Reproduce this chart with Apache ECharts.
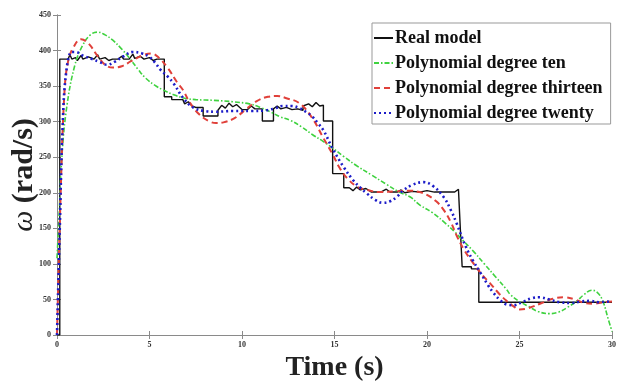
<!DOCTYPE html>
<html>
<head>
<meta charset="utf-8">
<script src="https://cdn.jsdelivr.net/npm/echarts@6/dist/echarts.min.js"></script>
<style>html,body{margin:0;padding:0;background:#fff}#c{width:621px;height:385px}</style>
</head>
<body>
<div id="c"></div>
<script>
const seriesNames = ['Real model', 'Polynomial degree ten', 'Polynomial degree thirteen', 'Polynomial degree twenty'];
const xTicks = [0, 5, 10, 15, 20, 25, 30];
const yTicks = [0, 50, 100, 150, 200, 250, 300, 350, 400, 450];

const realModel = [
  [0,0],[0.15,0],[0.15,388],[0.6,388],[0.7,394],[0.8,388],[1.0,390],[1.1,386],[1.3,393],[1.4,388],
  [1.7,391],[2.0,388],[2.2,394],[2.3,388],[2.6,390],[2.8,386],[3.0,388],[3.3,388],[3.5,392],[3.6,388],
  [3.9,388],[4.1,395],[4.2,389],[4.5,392],[4.7,388],[5.0,390],[5.2,386],[5.4,388],[5.8,388],[5.8,335],
  [6.2,335],[6.2,331],[6.8,331],[6.9,325],[7.1,328],[7.3,322],[7.5,320],[7.9,320],[7.9,308],[8.7,308],
  [8.7,316],[8.9,323],[9.1,319],[9.3,326],[9.5,321],[9.7,324],[10.0,317],[10.3,317],[10.5,322],[10.7,318],
  [11.1,318],[11.1,301],[11.7,301],[11.7,318],[11.9,322],[12.1,318],[12.4,320],[12.7,317],[13.0,318],[13.3,316],
  [13.3,322],[13.6,325],[13.8,321],[14.0,327],[14.2,322],[14.4,323],[14.4,301],[14.9,301],[14.9,227],[15.5,227],
  [15.5,207],[15.8,207],[16.0,203],[16.2,208],[16.4,204],[16.7,206],[17.0,201],[17.5,201],[17.8,205],[18.0,201],
  [18.4,201],[18.6,204],[18.8,200],[19.2,202],[19.6,201],[20.0,203],[20.4,201],[21.0,201],[21.5,201],[21.7,205],
  [21.8,203],[21.9,96],[22.4,96],[22.4,93],[22.8,93],[22.8,46],[25.0,46],[27.0,46],[30,46]
];

const polyTen = [
  [0,108],[0.1,160],[0.27,253],[0.54,323],[0.97,380],[1.4,408],[1.8,422],[2.2,426],[2.6,422],[3.0,415],
  [3.5,402],[3.9,390],[4.4,373],[4.8,361],[5.3,351],[5.7,345],[6.3,338],[6.9,333],[7.5,331],[8.5,330],
  [9.5,328],[10.4,325],[11.0,320],[11.6,313],[12.05,307],[12.6,302],[13.2,293],[13.8,282],[14.4,272],[14.9,263],
  [15.5,251],[16.2,238],[17.0,225],[17.8,212],[18.5,201],[19.1,194],[19.6,183],[20.3,172],[21.0,157],[21.5,145],
  [21.9,134],[22.5,118],[23.1,100],[23.7,82],[24.3,64],[24.5,57],[25.0,47],[25.5,40],[26.0,33],[26.6,30],
  [27.1,32],[27.6,39],[28.1,48],[28.5,57],[28.9,63],[29.2,60],[29.5,48],[29.8,22],[30,5]
];

const polyThirteen = [
  [0,0],[0.2,200],[0.4,340],[0.6,385],[0.9,405],[1.3,416],[1.7,410],[2.2,392],[2.6,380],[3.0,376],
  [3.5,378],[4.0,385],[4.6,393],[5.1,396],[5.5,390],[6.0,375],[6.5,355],[6.8,345],[7.2,326],[7.7,310],
  [8.2,301],[8.6,298],[9.0,299],[9.6,305],[10.2,317],[10.8,329],[11.4,335],[11.9,336],[12.4,333],[13.1,326],
  [13.8,305],[14.4,277],[14.9,254],[15.3,234],[15.7,220],[16.2,209],[16.75,204],[17.5,201],[18.3,202],[19.0,203],
  [19.6,201],[20.0,197],[20.5,188],[20.9,176],[21.3,158],[21.6,140],[22.0,120],[22.5,101],[23.0,84],[23.4,73],
  [23.9,58],[24.3,48],[24.7,40],[25.0,36],[25.5,38],[26.2,45],[26.8,51],[27.4,53],[28.0,50],[28.5,45],
  [29.0,44],[29.5,46],[30,47]
];

const polyTwenty = [
  [0,0],[0.15,150],[0.3,290],[0.5,370],[0.8,398],[1.0,398],[1.4,393],[1.9,388],[2.3,384],[2.7,380],
  [3.1,384],[3.6,392],[4.1,398],[4.6,396],[5.0,391],[5.3,383],[5.6,373],[6.0,363],[6.3,354],[6.8,334],
  [7.35,320],[8.0,315],[8.6,314],[9.5,315],[10.5,315],[11.3,316],[11.8,319],[12.2,322],[12.7,322],[13.1,319],
  [13.5,313],[13.8,307],[14.1,298],[14.4,288],[14.9,262],[15.5,236],[16.0,218],[16.4,207],[16.75,199],[17.2,190],
  [17.6,186],[18.0,188],[18.4,195],[18.7,203],[19.2,211],[19.8,215],[20.3,210],[20.9,194],[21.3,175],[21.6,157],
  [22.1,124],[22.5,104],[22.9,87],[23.3,70],[23.6,59],[24.0,48],[24.3,43],[24.7,42],[25.2,47],[25.7,52],
  [26.1,53],[26.6,50],[27.2,46],[27.8,45],[28.3,47],[28.8,48],[29.3,46],[29.7,47],[30,46]
];

const SERIF = '"Liberation Serif", "Times New Roman", serif';
const axisColor = '#8a8a8a';
const chart = echarts.init(document.getElementById('c'), null, {renderer: 'canvas'});

const baseX = {
  type: 'value', min: xTicks[0], max: xTicks[xTicks.length - 1], interval: xTicks[1] - xTicks[0],
  splitLine: {show: false},
  axisLine: {show: true, lineStyle: {color: axisColor, width: 1}},
  axisTick: {show: true, inside: true, length: 4, lineStyle: {color: axisColor}}
};
const baseY = {
  type: 'value', min: yTicks[0], max: yTicks[yTicks.length - 1], interval: yTicks[1] - yTicks[0],
  splitLine: {show: false},
  axisLine: {show: true, lineStyle: {color: axisColor, width: 1}},
  axisTick: {show: true, inside: true, length: 4, lineStyle: {color: axisColor}}
};

chart.setOption({
  animation: false,
  backgroundColor: '#fff',
  grid: {left: 57, right: 9, top: 15, bottom: 50, containLabel: false, outerBoundsMode: 'none'},
  xAxis: [
    Object.assign({}, baseX, {
      position: 'bottom',
      axisLabel: {fontFamily: SERIF, fontSize: 8, fontWeight: 'bold', color: '#333', margin: 6},
      name: 'Time (s)', nameLocation: 'middle', nameGap: 14,
      nameTextStyle: {fontFamily: SERIF, fontSize: 28, fontWeight: 'bold', color: '#222'}
    }),
    Object.assign({}, baseX, {position: 'top', axisLabel: {show: false}})
  ],
  yAxis: [
    Object.assign({}, baseY, {
      position: 'left',
      axisLabel: {fontFamily: SERIF, fontSize: 8, fontWeight: 'bold', color: '#333', margin: 6},
      name: '{i|ω} (rad/s)', nameLocation: 'middle', nameGap: 18, nameMoveOverlap: false,
      nameTextStyle: {fontFamily: SERIF, fontSize: 30, fontWeight: 'bold', color: '#222',
        rich: {i: {fontFamily: SERIF, fontSize: 30, fontStyle: 'italic', fontWeight: 'normal', color: '#222'}}}
    }),
    Object.assign({}, baseY, {position: 'right', axisLabel: {show: false}})
  ],
  legend: {
    orient: 'vertical', left: 372, top: 23,
    data: seriesNames,
    backgroundColor: '#fff', borderColor: '#999', borderWidth: 1,
    padding: [6, 8, 2, 1],
    itemWidth: 19, itemHeight: 10, itemGap: 7,
    itemStyle: {opacity: 0},
    textStyle: {fontFamily: SERIF, fontSize: 18, fontWeight: 'bold', color: '#111', padding: [0, 0, 0, -3]}
  },
  series: [
    {name: seriesNames[0], type: 'line', data: realModel, showSymbol: false, symbol: 'none',
      lineStyle: {color: '#111', width: 1.4}, itemStyle: {color: '#111'}},
    {name: seriesNames[1], type: 'line', data: polyTen, showSymbol: false, symbol: 'none', smooth: 0.4,
      lineStyle: {color: '#3fd23f', width: 1.6, type: [5, 2, 1.5, 2]}, itemStyle: {color: '#3fd23f'}},
    {name: seriesNames[2], type: 'line', data: polyThirteen, showSymbol: false, symbol: 'none', smooth: 0.4,
      lineStyle: {color: '#e0403a', width: 2, type: [6, 4]}, itemStyle: {color: '#e0403a'}},
    {name: seriesNames[3], type: 'line', data: polyTwenty, showSymbol: false, symbol: 'none', smooth: 0.4,
      lineStyle: {color: '#1c1cc8', width: 2.6, type: [2, 3]}, itemStyle: {color: '#1c1cc8'}}
  ]
});
</script>
</body>
</html>
